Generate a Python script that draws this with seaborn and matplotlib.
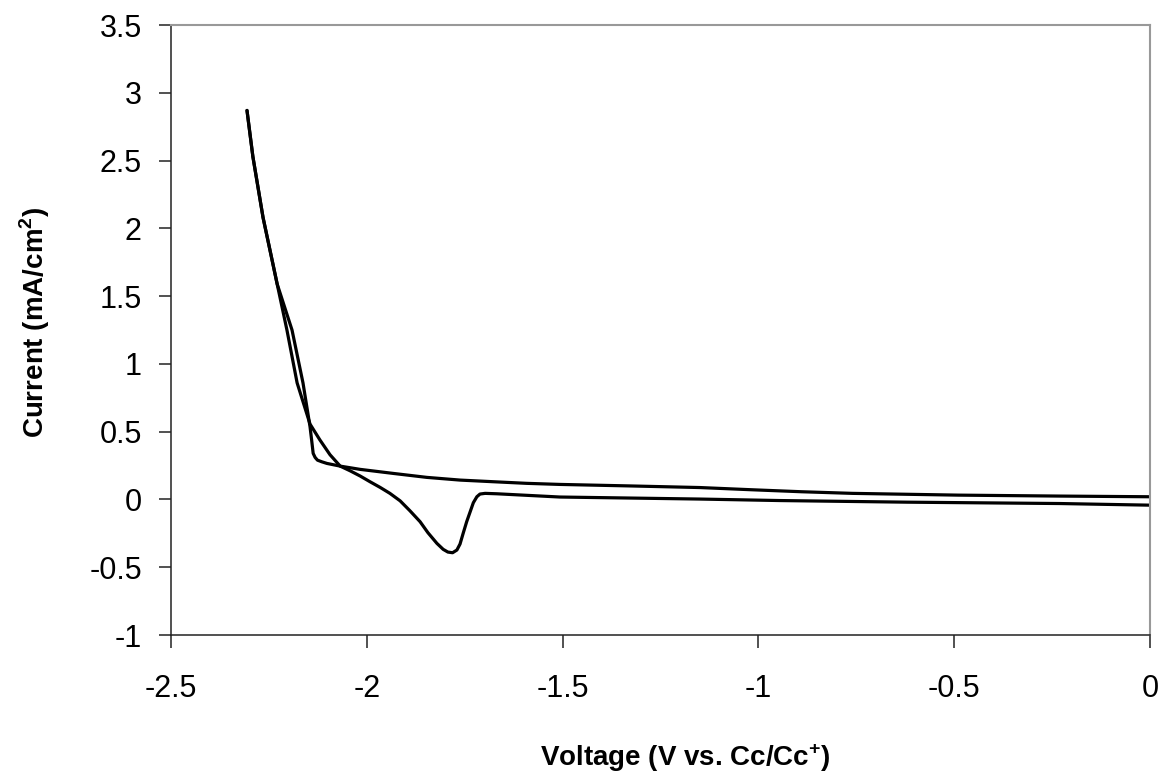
import numpy as np
import pandas as pd
import matplotlib
matplotlib.use("Agg")
import matplotlib.pyplot as plt
import seaborn as sns

# cathodic sweep, 0 V -> -2.31 V (upper branch with the sharp knee)
fwd_v = [0, -0.23, -0.49, -0.76, -0.89, -1.02, -1.15, -1.33, -1.507, -1.592,
         -1.678, -1.762, -1.847, -1.932, -2.017, -2.068, -2.102, -2.115, -2.126,
         -2.132, -2.137, -2.141, -2.145, -2.163, -2.191, -2.229, -2.24, -2.265,
         -2.291, -2.306]
fwd_i = [0.02, 0.025, 0.032, 0.045, 0.057, 0.072, 0.088, 0.10, 0.111, 0.119,
         0.131, 0.143, 0.163, 0.192, 0.222, 0.246, 0.266, 0.278, 0.29,
         0.31, 0.34, 0.44, 0.536, 0.86, 1.25, 1.59, 1.74, 2.08,
         2.53, 2.87]

# return sweep, -2.31 V -> 0 V (stripping peak near -1.78 V)
rev_v = [-2.306, -2.291, -2.265, -2.24, -2.229, -2.204, -2.178, -2.145, -2.12,
         -2.094, -2.068, -2.043, -2.017, -1.992, -1.966, -1.941, -1.915, -1.890,
         -1.864, -1.844, -1.821, -1.805, -1.793, -1.781, -1.770, -1.762, -1.754,
         -1.745, -1.736, -1.728, -1.719, -1.711, -1.698, -1.668, -1.507, -1.149,
         -0.945, -0.62, -0.23, -0.04, 0]
rev_i = [2.87, 2.53, 2.08, 1.74, 1.59, 1.25, 0.86, 0.556, 0.44,
         0.33, 0.246, 0.212, 0.173, 0.131, 0.089, 0.045, -0.01, -0.083,
         -0.164, -0.245, -0.324, -0.368, -0.388, -0.393, -0.373, -0.329, -0.25,
         -0.164, -0.09, -0.024, 0.02, 0.04, 0.045, 0.042, 0.018, 0.003,
         -0.008, -0.02, -0.03, -0.04, -0.042]

x_ticks = [-2.5, -2, -1.5, -1, -0.5, 0]
y_ticks = [-1, -0.5, 0, 0.5, 1, 1.5, 2, 2.5, 3, 3.5]

fwd = pd.DataFrame({"V": fwd_v, "I": fwd_i})
rev = pd.DataFrame({"V": rev_v, "I": rev_i})

sns.set_style("white")
plt.rcParams["font.family"] = ["Liberation Sans", "DejaVu Sans"]
plt.rcParams["mathtext.fontset"] = "custom"
plt.rcParams["mathtext.bf"] = "Liberation Sans:bold"
plt.rcParams["mathtext.rm"] = "Liberation Sans"
plt.rcParams["text.color"] = "black"
plt.rcParams["axes.labelcolor"] = "black"

fig = plt.figure(figsize=(11.73, 7.83), dpi=100)
ax = fig.add_axes([0.1458, 0.189, 0.8346, 0.779])

sns.lineplot(data=fwd, x="V", y="I", sort=False, estimator=None,
             color="black", linewidth=2.3, ax=ax)
sns.lineplot(data=rev, x="V", y="I", sort=False, estimator=None,
             color="black", linewidth=2.3, ax=ax)

ax.set_xlim(-2.5, 0)
ax.set_ylim(-1, 3.5)
ax.set_xticks(x_ticks)
ax.set_xticklabels(["-2.5", "-2", "-1.5", "-1", "-0.5", "0"])
ax.set_yticks(y_ticks)
ax.set_yticklabels(["-1", "-0.5", "0", "0.5", "1", "1.5", "2", "2.5", "3", "3.5"])

ax.tick_params(axis="both", direction="out", length=9, width=1.1,
               color="#222222", labelsize=22, labelcolor="black",
               bottom=True, left=True)
ax.tick_params(axis="y", pad=12)
ax.tick_params(axis="x", pad=19)

for side in ["left", "bottom"]:
    ax.spines[side].set_color("#222222")
    ax.spines[side].set_linewidth(1.1)
for side in ["top", "right"]:
    ax.spines[side].set_color("#999999")
    ax.spines[side].set_linewidth(1.5)
    ax.spines[side].set_visible(True)

ax.set_xlabel(r"Voltage (V vs. Cc/Cc$^{\mathbf{+}}$)", fontsize=20,
              fontweight="bold")
ax.set_ylabel(r"Current (mA/cm$^{\mathbf{2}}$)", fontsize=20,
              fontweight="bold")
ax.xaxis.set_label_coords(0.525, -0.175)
ax.yaxis.set_label_coords(-0.122, 0.513)

fig.savefig("out.png", dpi=100, facecolor="white")
